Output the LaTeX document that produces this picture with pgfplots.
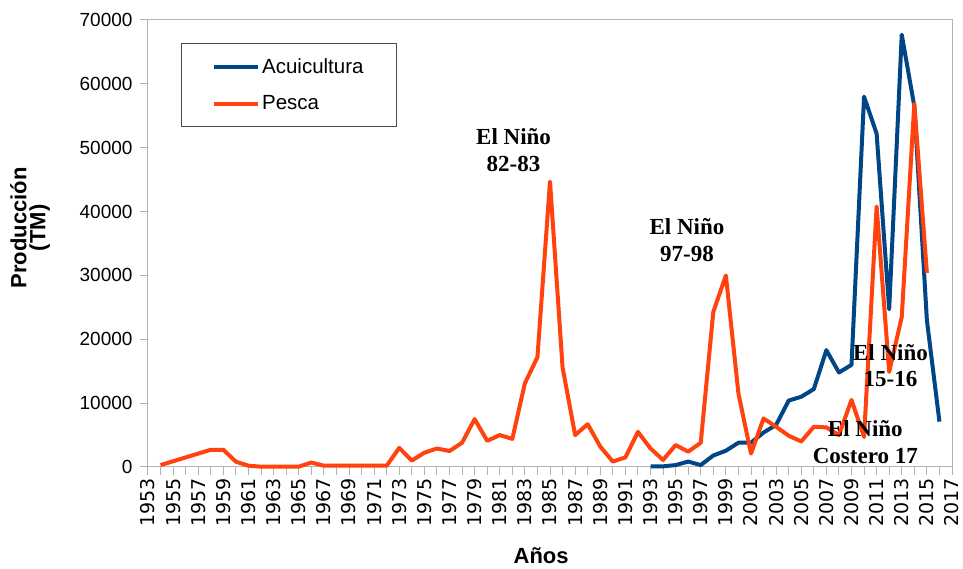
\documentclass[border=0pt]{standalone}
\usepackage{pgfplots}
\pgfplotsset{compat=1.18}
\usepackage{fontspec}
\setmainfont{Liberation Sans}
\newfontfamily\dejavu{DejaVu Sans}
\newfontfamily\tnr{Liberation Serif}
\definecolor{acui}{HTML}{004586}
\definecolor{pesca}{HTML}{FF420E}
\definecolor{axgray}{HTML}{B3B3B3}

\pgfplotstableread{
year val
1993 100
1994 100
1995 300
1996 850
1997 300
1998 1800
1999 2550
2000 3800
2001 3800
2002 5400
2003 6600
2004 10400
2005 11000
2006 12200
2007 18300
2008 14800
2009 16000
2010 58000
2011 52200
2012 24700
2013 67700
2014 56500
2015 23000
2016 7100
}\acuitable

\pgfplotstableread{
year val
1954 300
1955 900
1956 1500
1957 2100
1958 2700
1959 2700
1960 830
1961 200
1962 50
1963 50
1964 50
1965 50
1966 700
1967 200
1968 200
1969 200
1970 200
1971 200
1972 200
1973 3000
1974 1000
1975 2240
1976 2900
1977 2500
1978 3800
1979 7500
1980 4100
1981 5000
1982 4400
1983 13100
1984 17200
1985 44700
1986 15600
1987 5000
1988 6700
1989 3200
1990 850
1991 1500
1992 5500
1993 2900
1994 1100
1995 3440
1996 2400
1997 3800
1998 24300
1999 30000
2000 11500
2001 2100
2002 7600
2003 6300
2004 4900
2005 4000
2006 6300
2007 6200
2008 5000
2009 10500
2010 4700
2011 40800
2012 14900
2013 23500
2014 56900
2015 30400
}\pescatable

\begin{document}
\begin{tikzpicture}
\begin{axis}[
  scale only axis,
  width=804pt, height=447pt,
  xmin=1953, xmax=2017, ymin=0, ymax=70000,
  axis line style={axgray, line width=1pt},
  xtick={1953,1955,...,2017},
  minor xtick={1954,1956,...,2016},
  ytick={0,10000,...,70000},
  xtick pos=lower, ytick pos=left,
  tick align=outside,
  major tick length=8pt, minor tick length=8pt,
  tick style={axgray, line width=1pt},
  /pgf/number format/assume math mode=true,
  /pgf/number format/1000 sep={},
  x tick label style={rotate=90, anchor=east, font=\dejavu\fontsize{19}{19}\selectfont, /pgf/number format/1000 sep={}},
  y tick label style={font=\fontsize{19}{19}\selectfont, xshift=-4pt, /pgf/number format/1000 sep={}},
  scaled y ticks=false,
  xlabel={Años},
  xlabel style={font=\bfseries\fontsize{22}{22}\selectfont, at={(ticklabel cs:0.489)}, yshift=-14pt},
  ylabel={Producción\\(TM)},
  ylabel style={align=center, font=\bfseries\fontsize{22}{19}\selectfont, at={(axis description cs:-0.1468,0.535)}, anchor=center},
  legend style={at={(rel axis cs:0.0406,0.9485)}, anchor=north west, draw=black!70, line width=1pt,
    font=\fontsize{20.5}{20.5}\selectfont, inner xsep=31pt, inner ysep=13pt, row sep=17pt},
  legend cell align=left,
  legend image code/.code={\draw[#1, line width=4pt] (0pt,0pt) -- (44pt,0pt);},
  clip=false,
]
\addplot[acui, line width=4pt, line join=round] table[x=year, y=val] {\acuitable};
\addlegendentry{Acuicultura}
\addplot[pesca, line width=4pt, line join=round] table[x=year, y=val] {\pescatable};
\addlegendentry{Pesca}

\node[font=\tnr\bfseries\fontsize{23}{26.5}\selectfont, align=center] at (axis cs:1982.1,49600) {El Niño\\82-83};
\node[font=\tnr\bfseries\fontsize{23}{26.5}\selectfont, align=center] at (axis cs:1995.9,35500) {El Niño\\97-98};
\node[font=\tnr\bfseries\fontsize{23}{26.5}\selectfont, align=center] at (axis cs:2012.1,15900) {El Niño\\15-16};
\node[font=\tnr\bfseries\fontsize{23}{26.5}\selectfont, align=center] at (axis cs:2010.1,3900) {El Niño\\Costero 17};
\end{axis}
\pgfresetboundingbox
\path ([shift={(-148pt,-102pt)}]current axis.south west) rectangle ([shift={(11pt,20pt)}]current axis.north east);
\end{tikzpicture}
\end{document}
